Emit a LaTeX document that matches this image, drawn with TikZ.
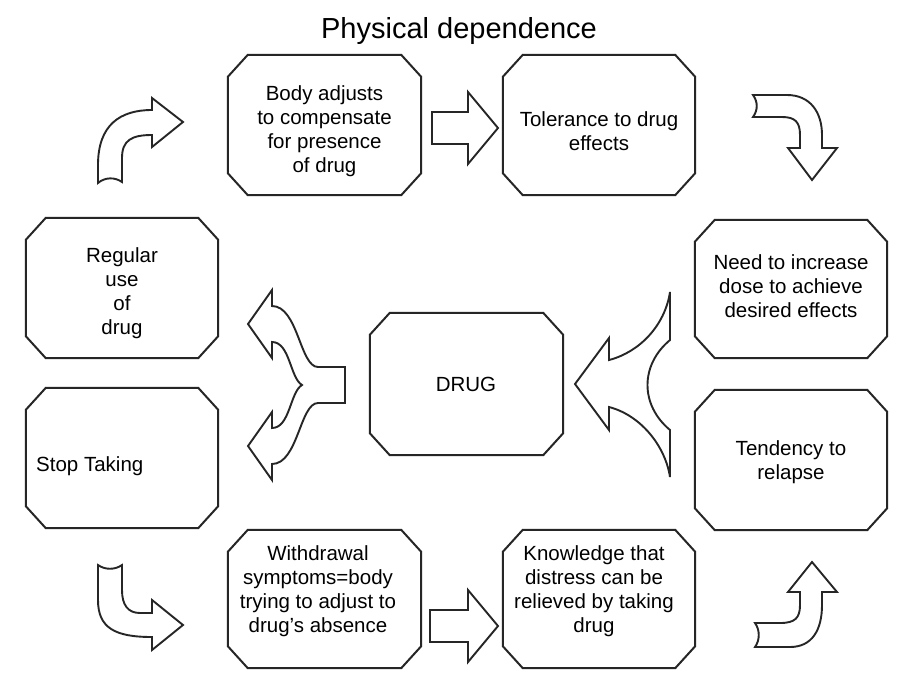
\documentclass[tikz,border=0pt]{standalone}
\usepackage{fontspec}
\setmainfont{Liberation Sans}
\begin{document}
\begin{tikzpicture}[x=1pt,y=-1pt,
  boxnode/.style={inner sep=0pt, minimum width=#1},
  boxline/.style={draw=black!85, line width=2pt, line join=miter},
  txt/.style={align=center, inner sep=0pt, font=\fontsize{20.5}{24}\selectfont},
  blk/.style={draw=black!85, line width=1.9pt, line join=miter, fill=white}]
\newcommand\chbox[1]{\draw[boxline] ([xshift=20pt]#1.north west) -- ([xshift=-20pt]#1.north east) -- ([yshift=-22pt]#1.north east) -- ([yshift=22pt]#1.south east) -- ([xshift=-20pt]#1.south east) -- ([xshift=20pt]#1.south west) -- ([yshift=22pt]#1.south west) -- ([yshift=-22pt]#1.north west) -- cycle;}
\fill[white] (0,0) rectangle (915,686);
\useasboundingbox (0,0) rectangle (915,686);

\node[font=\fontsize{29}{34}\selectfont, inner sep=0pt] (title) at (459,31) {Physical dependence};

% boxes
\node[boxnode=193pt, minimum height=140pt] (body) at (324.5,125) {};
\node[boxnode=192pt, minimum height=140pt] (tol) at (599,125) {};
\node[boxnode=192pt, minimum height=140pt] (reg) at (122,288) {};
\node[boxnode=192pt, minimum height=138pt] (need) at (791,289) {};
\node[boxnode=193pt, minimum height=142pt] (drug) at (466.5,384) {};
\node[boxnode=192pt, minimum height=140pt] (stop) at (122,458) {};
\node[boxnode=192pt, minimum height=140pt] (tend) at (791,460) {};
\node[boxnode=193pt, minimum height=138pt] (wd) at (324.5,599) {};
\node[boxnode=192pt, minimum height=138pt] (know) at (599,599) {};
\foreach \b in {body,tol,reg,need,drug,stop,tend,wd,know} {\chbox{\b}}

% texts
\node[txt] (bodyT) at (324.5,131) {Body adjusts\\to compensate\\for presence\\of drug};
\node[txt] (tolT) at (599,131) {Tolerance to drug\\effects};
\node[txt] (regT) at (122,293) {Regular\\use\\of\\drug};
\node[txt] (needT) at (791,286) {Need to increase\\dose to achieve\\desired effects};
\node[txt] (drugT) at (466,384) {DRUG};
\node[txt, anchor=west] (stopT) at (36,466) {Stop Taking};
\node[txt] (tendT) at (791,462) {Tendency to\\relapse};
\node[txt] (wdT) at (318,591) {Withdrawal\\symptoms=body\\trying to adjust to\\drug's absence};
\node[txt] (knowT) at (594,591) {Knowledge that\\distress can be\\relieved by taking\\drug};

% straight block arrows
\draw[blk] (432,112) -- (468,112) -- (468,92) -- (498,128) -- (468,164) -- (468,144) -- (432,144) -- cycle;
\draw[blk] (430,610) -- (468,610) -- (468,590) -- (498,626) -- (468,662) -- (468,642) -- (430,642) -- cycle;

% top-left curved arrow
\draw[blk] (98,183) -- (98,165) .. controls (98,125) and (120,110) .. (152,110) -- (152,98) -- (183,122) -- (152,147) -- (152,135)
  .. controls (132,135) and (122,140) .. (122,158) -- (122,182) .. controls (115,177) and (105,177) .. (98,183) -- cycle;

% top-right curved arrow
\draw[blk] (753,95) -- (787,95) .. controls (810,95) and (822,112) .. (822,135) -- (822,148) -- (837,148) -- (812,180) -- (788,148) -- (800,148)
  -- (800,135) .. controls (800,122) and (795,117) .. (782,117) -- (753,117) .. controls (758,110) and (758,102) .. (753,95) -- cycle;

% bottom-left curved arrow
\draw[blk] (98,565) -- (98,600) .. controls (98,628) and (115,637) .. (152,637) -- (152,650) -- (183,625) -- (152,600) -- (152,613)
  -- (140,613) .. controls (128,613) and (122,605) .. (122,590) -- (122,565) .. controls (115,570) and (105,570) .. (98,565) -- cycle;

% bottom-right curved arrow
\draw[blk] (755,647) -- (790,647) .. controls (812,647) and (822,630) .. (822,605) -- (822,592) -- (837,592) -- (812,562) -- (788,592) -- (800,592)
  -- (800,605) .. controls (800,618) and (795,623) .. (780,623) -- (755,623) .. controls (760,630) and (760,640) .. (755,647) -- cycle;

% left split arrow
\draw[blk] (345,367) -- (345,403) -- (318,403) .. controls (300,403) and (298,464) .. (272,464) -- (272,480) -- (248,446) -- (272,412) -- (272,428)
  .. controls (290,428) and (290,392) .. (302,385) .. controls (290,378) and (290,342) .. (272,342)
  -- (272,358) -- (248,324) -- (272,290) -- (272,306) .. controls (298,306) and (300,367) .. (318,367) -- cycle;

% right split arrow
\draw[blk] (575,384) -- (609,338) -- (609,360) .. controls (640,352) and (665,325) .. (670,292) -- (670,340)
  .. controls (640,365) and (640,405) .. (670,430) -- (670,477) .. controls (665,445) and (640,415) .. (609,407) -- (609,430) -- cycle;
\end{tikzpicture}
\end{document}
